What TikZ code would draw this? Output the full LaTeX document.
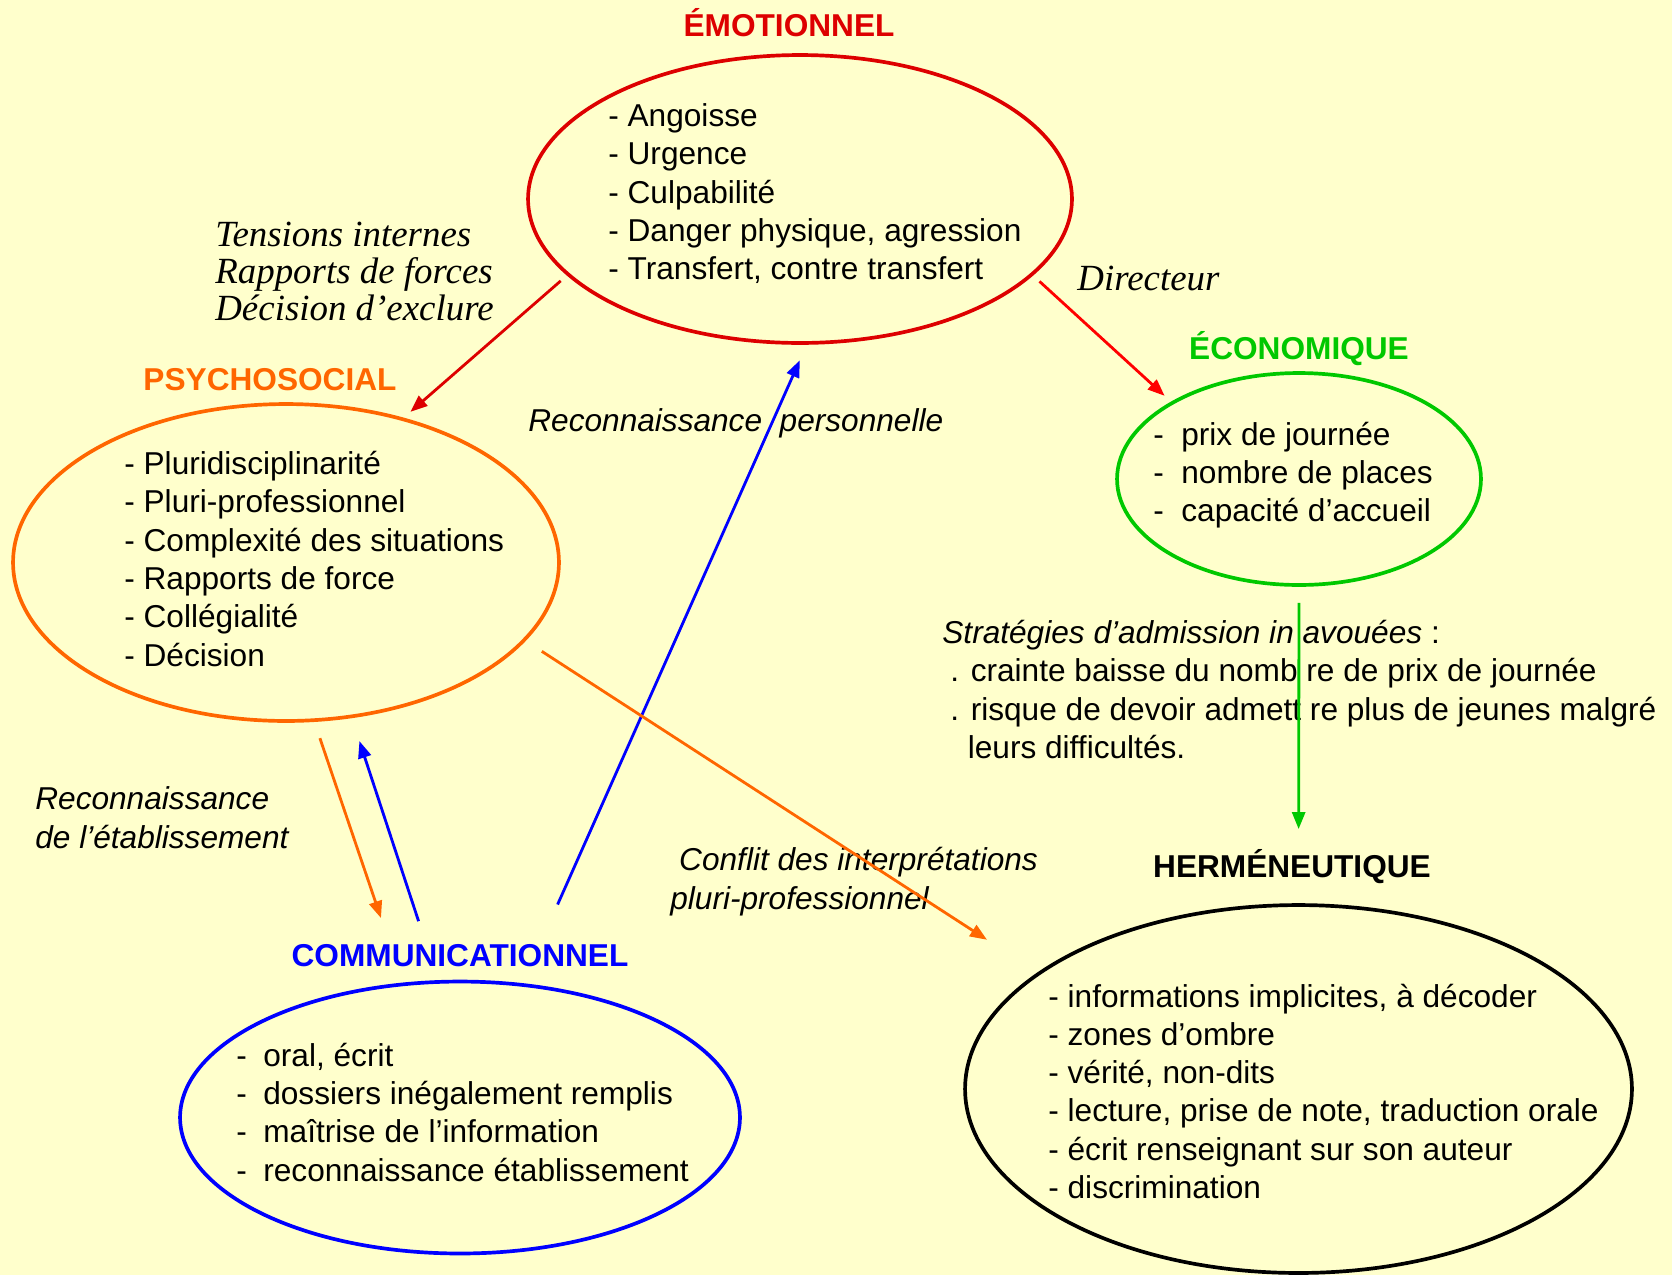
\documentclass[tikz,border=0pt]{standalone}
\usepackage{fontspec}
\setmainfont{Liberation Sans}
\newfontfamily\timesfont{Liberation Serif}
\usetikzlibrary{shapes.geometric,arrows.meta}
\usepackage{xcolor}

\definecolor{bgyellow}{RGB}{255,255,204}
\definecolor{emored}{RGB}{221,0,0}
\definecolor{psyorange}{RGB}{255,102,0}
\definecolor{ecogreen}{RGB}{0,200,0}
\definecolor{comblue}{RGB}{0,0,255}

\begin{document}
\begin{tikzpicture}[
    x=0.02cm, y=-0.02cm,
    >={Triangle[length=0.34cm,width=0.26cm]},
    field/.style={ellipse, draw, line width=2.1pt, inner sep=0pt, outer sep=0pt},
    head/.style={anchor=base, font=\fontsize{18}{21.8}\selectfont\bfseries},
    items/.style={anchor=base west, align=left, inner sep=0pt, font=\fontsize{18}{21.8}\selectfont},
    note/.style={anchor=base west, align=left, inner sep=0pt, font=\fontsize{18}{21.8}\selectfont\itshape},
    serifnote/.style={anchor=base west, align=left, inner sep=0pt, font=\fontsize{21}{20.9}\selectfont\timesfont\itshape},
    link/.style={->, line width=1.6pt}
]
    \useasboundingbox (0,0) rectangle (1672,1275);
    \fill[bgyellow] (0,0) rectangle (1672,1275);

    \node[field, draw=emored, minimum width=10.88cm, minimum height=5.76cm] (emo) at (800,199) {};
    \node[field, draw=psyorange, minimum width=10.92cm, minimum height=6.34cm] (psy) at (286,562.5) {};
    \node[field, draw=ecogreen, minimum width=7.28cm, minimum height=4.24cm] (eco) at (1299,479) {};
    \node[field, draw=comblue, minimum width=11.2cm, minimum height=5.44cm] (com) at (460,1117.5) {};
    \node[field, draw=black, minimum width=13.34cm, minimum height=7.36cm] (her) at (1298.5,1089) {};

    \node[head, text=emored] (emotitle) at (789,36.5) {ÉMOTIONNEL};
    \node[head, text=psyorange] (psytitle) at (270,390) {PSYCHOSOCIAL};
    \node[head, text=ecogreen] (ecotitle) at (1299,359) {ÉCONOMIQUE};
    \node[head, text=comblue] (comtitle) at (460,966) {COMMUNICATIONNEL};
    \node[head] (hertitle) at (1292,877) {HERMÉNEUTIQUE};

    \node[items] (emolist) at (608,279.7) {- Angoisse\\- Urgence\\- Culpabilité\\- Danger physique, agression\\- Transfert, contre transfert};
    \node[items] (psylist) at (124,666) {- Pluridisciplinarité\\- Pluri-professionnel\\- Complexité des situations\\- Rapports de force\\- Collégialité\\- Décision};
    \node[items] (ecolist) at (1153,521.6) {\makebox[0.56cm][l]{-}prix de journée\\\makebox[0.56cm][l]{-}nombre de places\\\makebox[0.56cm][l]{-}capacité d’accueil};
    \node[items] (comlist) at (236,1181) {\makebox[0.54cm][l]{-}oral, écrit\\\makebox[0.54cm][l]{-}dossiers inégalement remplis\\\makebox[0.54cm][l]{-}maîtrise de l’information\\\makebox[0.54cm][l]{-}reconnaissance établissement};
    \node[items] (herlist) at (1048,1198.5) {- informations implicites, à décoder\\- zones d’ombre\\- vérité, non-dits\\- lecture, prise de note, traduction orale\\- écrit renseignant sur son auteur\\- discrimination};

    \node[serifnote] (tensions) at (215,320.4) {Tensions internes\\Rapports de forces\\Décision d’exclure};
    \node[serifnote] (directeur) at (1077,290.5) {Directeur};
    \node[note] (recopers) at (528,431.5) {Reconnaissance\ \ personnelle};
    \node[note] (recoetab) at (35,848) {Reconnaissance\\de l’établissement};
    \node[note] (conflit) at (670,909) {\hspace*{0.28em}Conflit des interprétations\\pluri-professionnel};
    \node[items] (strategies) at (942,758.4) {\textit{Stratégies d’admission in avouées} :\\\hspace*{0.25em}. crainte baisse du nomb re de prix de journée\\\hspace*{0.25em}. risque de devoir admett re plus de jeunes malgré\\\hspace*{0.25em}\phantom{.} leurs difficultés.};

    \draw[link, emored, shorten <=0.2cm, shorten >=0.22cm] (emo.198) -- (psy.51);
    \draw[link, red, shorten <=0.21cm, shorten >=0.21cm] (emo.342) -- (eco.149);
    \draw[link, comblue, shorten <=1.76cm, shorten >=0.38cm] (com.65) -- (emo.273);
    \draw[link, psyorange, shorten <=0.42cm, shorten >=1.24cm] (psy.342) -- (her.156);
    \draw[link, psyorange, shorten <=0.38cm, shorten >=1.4cm] (psy.280) -- (com.113);
    \draw[link, comblue, shorten <=1.28cm, shorten >=0.52cm] (com.99) -- (psy.293);
    \draw[link, ecogreen, shorten <=0.36cm, shorten >=1.52cm] (eco.south) -- (her.north);
\end{tikzpicture}
\end{document}
